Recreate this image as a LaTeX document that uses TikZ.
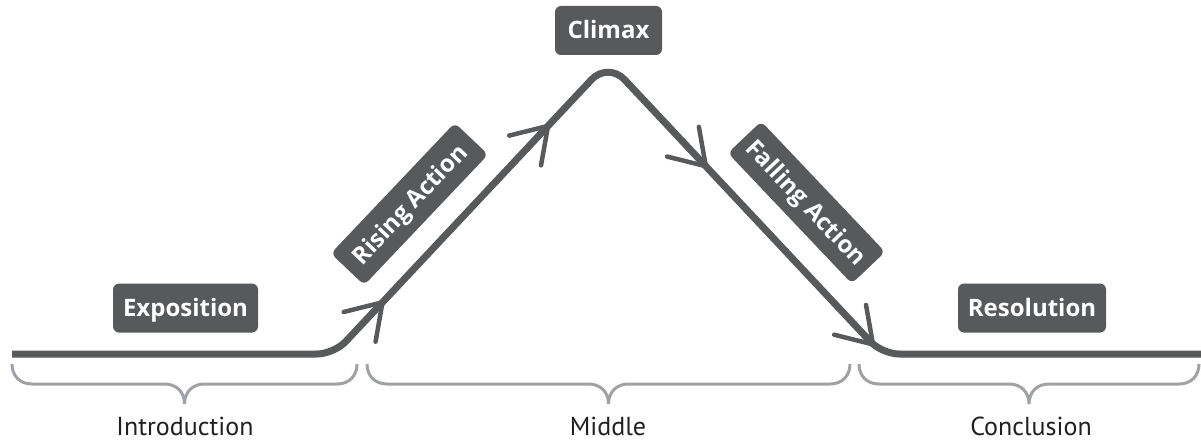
\documentclass[tikz,border=0pt]{standalone}
\usepackage{fontspec}
\setmainfont{PT Sans}
\newfontfamily\stagefont{Open Sans}
\usetikzlibrary{calc}
\definecolor{arcgray}{HTML}{58595B}
\definecolor{bracegray}{HTML}{9FA1A4}
\definecolor{labelblack}{HTML}{231F20}
\tikzset{
  arc/.style={draw=arcgray, line width=7pt},
  barb/.style={draw=arcgray, line width=4.5pt, line cap=round, line join=miter},
  brace/.style={draw=bracegray, line width=3pt},
  stage/.style={fill=arcgray, rounded corners=6pt, text=white,
    font=\stagefont\fontsize{24}{24}\selectfont\bfseries, text height=17pt, text depth=0pt,
    inner sep=0pt, minimum height=49pt},
  part/.style={text=labelblack, font=\fontsize{26}{26}\selectfont, anchor=base, inner sep=0pt}
}
\begin{document}
\begin{tikzpicture}[x=1pt,y=-1pt]
\useasboundingbox (0,0) rectangle (1201,441);
% main plot line
\coordinate (A) at (12,354);
\coordinate (B) at (334,354);
\coordinate (C) at (608,62);
\coordinate (D) at (882,354);
\coordinate (E) at (1201,354);
\draw[arc] (A) [rounded corners=17pt] -- (B) [rounded corners=24pt] -- (C) [rounded corners=17pt] -- (D) -- (E);
% arrow tips
\coordinate (t1) at ($(B)!0.177!(C)$);
\coordinate (t2) at ($(B)!0.781!(C)$);
\coordinate (t3) at ($(C)!0.357!(D)$);
\coordinate (t4) at ($(C)!0.967!(D)$);
\draw[barb] (t1) ++(100:40) -- (t1) -- ++(166:40);
\draw[barb] (t2) ++(100:40) -- (t2) -- ++(166:40);
\draw[barb] (t3) ++(194:40) -- (t3) -- ++(260:40);
\draw[barb] (t4) ++(194:40) -- (t4) -- ++(260:40);
% stage labels
\node[stage, minimum width=107pt] (climax) at (608.5,30.5) {Climax};
\node[stage, minimum width=145pt] (expo) at (185.5,308) {Exposition};
\node[stage, minimum width=148pt] (reso) at (1032,308) {Resolution};
\node[stage, minimum width=180pt, minimum height=46pt, rotate=46.5] (rising) at (409.5,204) {Rising Action};
\node[stage, minimum width=180pt, minimum height=46pt, rotate=-46.5] (falling) at (806.5,202.5) {Falling Action};
% braces
\foreach \xa/\xb/\nm in {12/357/intro, 367/850/mid, 859/1199/concl}{
  \pgfmathsetmacro{\xc}{(\xa+\xb)/2}
  \coordinate (\nm) at (\xc,404);
  \draw[brace] (\xa,364) .. controls (\xa,376) and (\xa+8,384) .. (\xa+20,384)
     -- (\xc-20,384) .. controls (\xc-8,384) and (\xc,392) .. (\nm)
     .. controls (\xc,392) and (\xc+8,384) .. (\xc+20,384)
     -- (\xb-20,384) .. controls (\xb-8,384) and (\xb,376) .. (\xb,364);
}
% part labels
\node[part] (lintro) at (185,435) {Introduction};
\node[part] (lmid) at (608,435) {Middle};
\node[part] (lconcl) at (1031,435) {Conclusion};
\end{tikzpicture}
\end{document}
